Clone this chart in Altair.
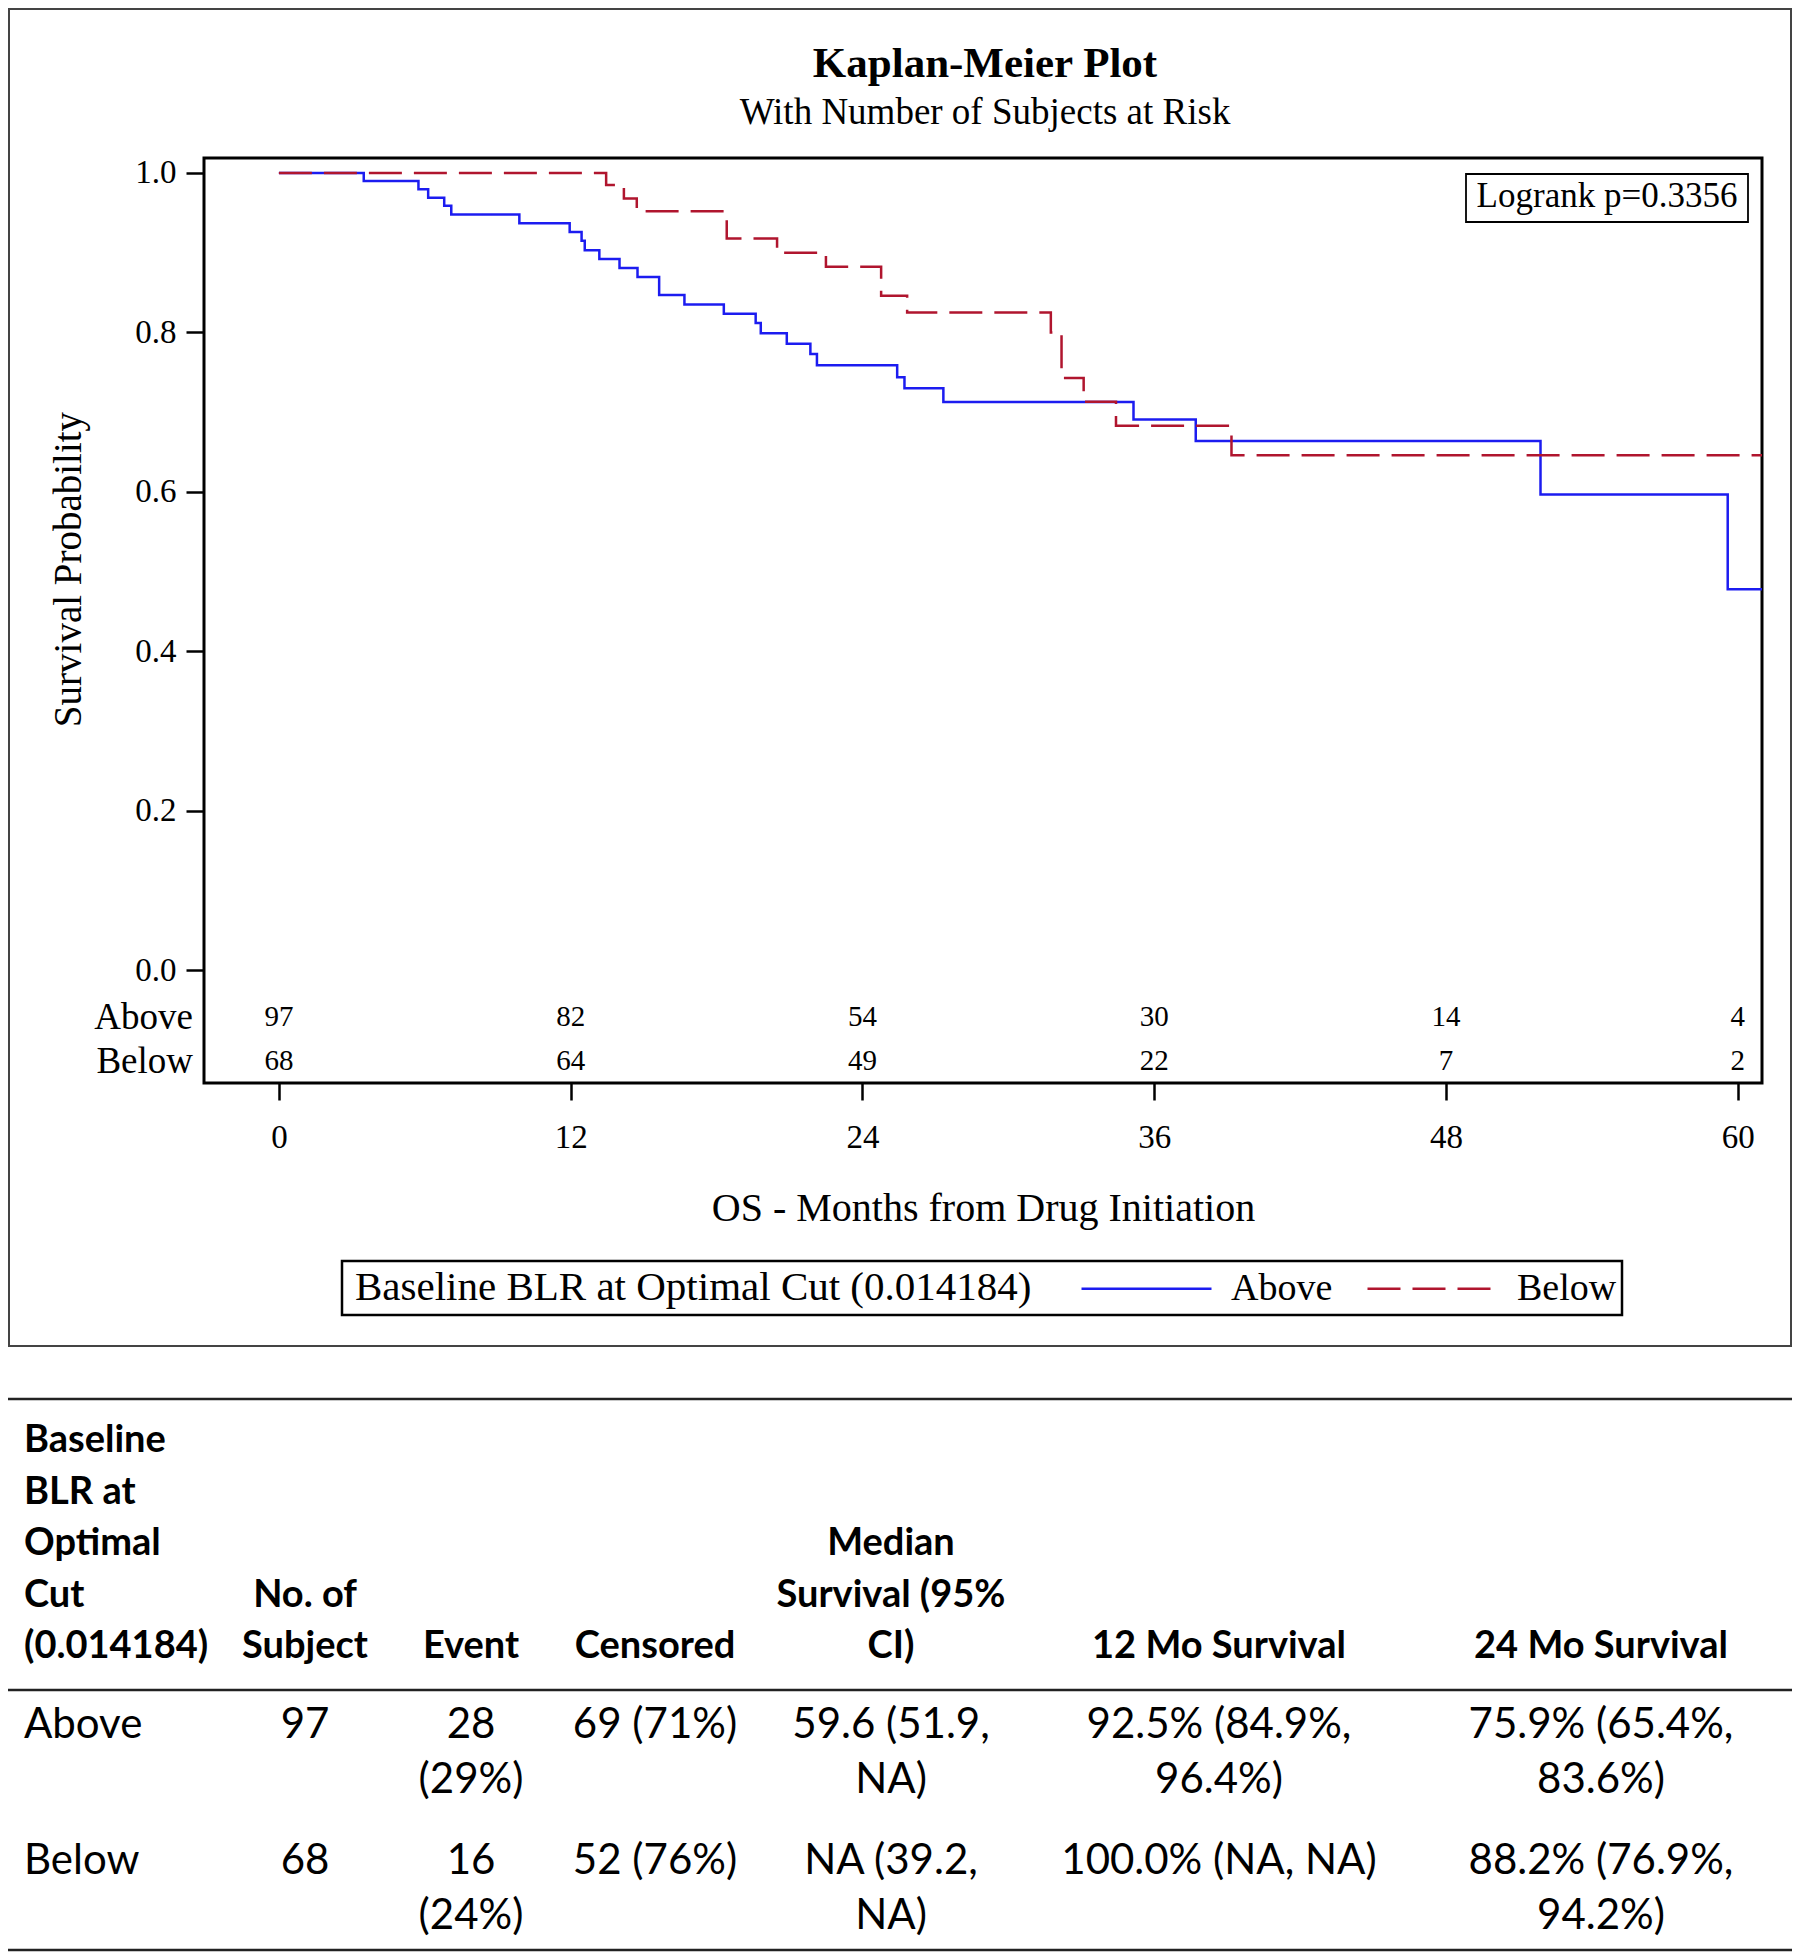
import altair as alt
import pandas as pd

# ---------------- data ----------------
above_t = [0, 3.49, 5.74, 6.14, 6.80, 7.09, 9.89, 11.96, 12.45, 12.58, 13.18, 14.01, 14.75,
           15.64, 16.68, 18.30, 19.61, 19.82, 20.89, 21.86, 22.13, 25.43, 25.73, 27.33,
           35.15, 37.71, 51.89, 59.59, 61.0]
above_s = [1.0, 0.990, 0.9795, 0.969, 0.959, 0.948, 0.937, 0.926, 0.915, 0.903, 0.892, 0.881,
           0.8695, 0.847, 0.835, 0.8235, 0.812, 0.799, 0.786, 0.773, 0.759, 0.744, 0.730,
           0.7127, 0.691, 0.664, 0.597, 0.478, 0.478]
below_t = [0, 13.46, 14.19, 14.72, 18.42, 20.49, 22.50, 24.77, 25.84, 31.75, 32.19, 33.10,
           34.43, 39.18, 61.0]
below_s = [1.0, 0.985, 0.968, 0.952, 0.918, 0.900, 0.8825, 0.846, 0.825, 0.800, 0.743, 0.713,
           0.683, 0.646, 0.646]

risk_times = [0, 12, 24, 36, 48, 60]
risk_above = [97, 82, 54, 30, 14, 4]
risk_below = [68, 64, 49, 22, 7, 2]

groups = ["Above", "Below"]
colors = ["#1C1CF0", "#B0152E"]
x_ticks = [0, 12, 24, 36, 48, 60]
y_ticks = [0.0, 0.2, 0.4, 0.6, 0.8, 1.0]

title_text = "Kaplan-Meier Plot"
subtitle_text = "With Number of Subjects at Risk"
x_title = "OS - Months from Drug Initiation"
y_title = "Survival Probability"
legend_title = "Baseline BLR at Optimal Cut (0.014184)"
logrank_text = "Logrank p=0.3356"

table_header = [
    ["Baseline", "BLR at", "Optimal", "Cut", "(0.014184)"],
    ["No. of", "Subject"],
    ["Event"],
    ["Censored"],
    ["Median", "Survival (95%", "CI)"],
    ["12 Mo Survival"],
    ["24 Mo Survival"],
]
table_rows = [
    [["Above"], ["97"], ["28", "(29%)"], ["69 (71%)"], ["59.6 (51.9,", "NA)"],
     ["92.5% (84.9%,", "96.4%)"], ["75.9% (65.4%,", "83.6%)"]],
    [["Below"], ["68"], ["16", "(24%)"], ["52 (76%)"], ["NA (39.2,", "NA)"],
     ["100.0% (NA, NA)"], ["88.2% (76.9%,", "94.2%)"]],
]

# ---------------- layout (pixels, relative to the plot area origin) ----------------
PLOT_W, PLOT_H = 1558, 925
SERIF = "Liberation Serif"
SANS = "Lato"
col_x = [-180, 101, 267, 451, 687, 1015, 1397]
header_last_y = 1489
header_lh = 51.5
row_first_y = [1567, 1703]
body_lh = 54.6
rule_y = [1241, 1532, 1792]

km = pd.DataFrame({
    "t": above_t + below_t,
    "S": above_s + below_s,
    "group": ["Above"] * len(above_t) + ["Below"] * len(below_t),
})

x_scale = alt.Scale(domain=[-3.08, 61.0], nice=False, zero=False)
y_scale = alt.Scale(domain=[-0.1411, 1.0188], nice=False, zero=False)

x_axis = alt.Axis(
    values=x_ticks, title=x_title, grid=False, domain=False, tickSize=17, tickWidth=2.5,
    tickColor="black", labelFont=SERIF, labelFontSize=33, labelPadding=21, labelColor="black",
    labelFlush=False, labelOverlap=False, titleFont=SERIF, titleFontSize=40,
    titleFontWeight="normal", titleColor="black", titleX=779, titleY=137,
    titleBaseline="alphabetic", titleAlign="center")
y_axis = alt.Axis(
    values=y_ticks, format=".1f", title=y_title, grid=False, domain=False, tickSize=18,
    tickWidth=2.5, tickColor="black", labelFont=SERIF, labelFontSize=33, labelPadding=10,
    labelColor="black", labelFlush=False, labelOverlap=False, titleFont=SERIF,
    titleFontSize=39, titleFontWeight="normal", titleColor="black", titleX=-124, titleY=411,
    titleAngle=270, titleBaseline="alphabetic", titleAlign="center")

legend = alt.Legend(
    title=None, orient="none", legendX=876, legendY=1064, direction="horizontal",
    labelFont=SERIF, labelFontSize=38, labelColor="black", labelLimit=500, labelOffset=18,
    symbolType="stroke", symbolSize=16900, symbolStrokeWidth=2.5, columnPadding=29,
    padding=0,
)

lines = alt.Chart(km).mark_line(interpolate="step-after", strokeWidth=2.5, clip=True).encode(
    x=alt.X("t:Q", scale=x_scale, axis=x_axis),
    y=alt.Y("S:Q", scale=y_scale, axis=y_axis),
    color=alt.Color("group:N", scale=alt.Scale(domain=groups, range=colors), legend=legend),
    strokeDash=alt.StrokeDash("group:N", scale=alt.Scale(domain=groups, range=[[1, 0], [33, 12]]),
                              legend=legend),
)

one = alt.Data(values=[{}])

risk_a = alt.Chart(pd.DataFrame({"t": risk_times, "n": risk_above})).mark_text(
    font=SERIF, fontSize=29, color="black", baseline="middle", align="center").encode(
    x=alt.X("t:Q", scale=x_scale, axis=x_axis), y=alt.value(859), text="n:Q")
risk_b = alt.Chart(pd.DataFrame({"t": risk_times, "n": risk_below})).mark_text(
    font=SERIF, fontSize=29, color="black", baseline="middle", align="center").encode(
    x=alt.X("t:Q", scale=x_scale, axis=x_axis), y=alt.value(903), text="n:Q")
risk_lab = alt.Chart(pd.DataFrame({"g": groups, "py": [860, 904]})).mark_text(
    font=SERIF, fontSize=37, color="black", baseline="middle", align="right").encode(
    x=alt.value(-11), y=alt.Y("py:Q", scale=None, axis=None), text="g:N")

title = alt.Chart(one).mark_text(font=SERIF, fontSize=43, fontWeight="bold", color="black",
                                 baseline="middle", align="center").encode(
    x=alt.value(781), y=alt.value(-94), text=alt.value(title_text))
subtitle = alt.Chart(one).mark_text(font=SERIF, fontSize=37, color="black",
                                    baseline="middle", align="center").encode(
    x=alt.value(781), y=alt.value(-45), text=alt.value(subtitle_text))

logrank_box = alt.Chart(one).mark_rect(fill="white", stroke="black", strokeWidth=1.8).encode(
    x=alt.value(1262), x2=alt.value(1544), y=alt.value(16), y2=alt.value(64))
logrank = alt.Chart(one).mark_text(font=SERIF, fontSize=35, color="black",
                                   baseline="middle", align="center").encode(
    x=alt.value(1403), y=alt.value(38), text=alt.value(logrank_text))

legend_box = alt.Chart(one).mark_rect(fill="white", stroke="black", strokeWidth=2.5).encode(
    x=alt.value(138), x2=alt.value(1418), y=alt.value(1103), y2=alt.value(1157))
legend_head = alt.Chart(one).mark_text(font=SERIF, fontSize=41, color="black",
                                       baseline="middle", align="left").encode(
    x=alt.value(151), y=alt.value(1130), text=alt.value(legend_title))

outer_box = alt.Chart(one).mark_rect(fill="transparent", stroke="#444444", strokeWidth=2).encode(
    x=alt.value(-195), x2=alt.value(1587), y=alt.value(-149), y2=alt.value(1188))

rules = alt.Chart(pd.DataFrame({"py": rule_y})).mark_rule(color="#222222", strokeWidth=2.5).encode(
    x=alt.value(-196), x2=alt.value(1588), y=alt.Y("py:Q", scale=None, axis=None))

# table cells -> one row per text line
head_recs, body_recs = [], []
for c, lines_ in enumerate(table_header):
    n = len(lines_)
    for i, s in enumerate(lines_):
        head_recs.append({"px": col_x[c], "py": header_last_y - (n - 1 - i) * header_lh,
                          "txt": s, "left": c == 0})
for r, row in enumerate(table_rows):
    for c, lines_ in enumerate(row):
        for i, s in enumerate(lines_):
            body_recs.append({"px": col_x[c], "py": row_first_y[r] + i * body_lh,
                              "txt": s, "left": c == 0})
head_df = pd.DataFrame(head_recs)
body_df = pd.DataFrame(body_recs)


def table_layer(df, left, weight, size):
    sub = df[df["left"] == left]
    return alt.Chart(sub).mark_text(
        font=SANS, fontSize=size, fontWeight=weight, color="black", baseline="middle",
        align="left" if left else "center").encode(
        x=alt.X("px:Q", scale=None, axis=None), y=alt.Y("py:Q", scale=None, axis=None),
        text="txt:N")


chart = alt.layer(
    outer_box, lines, risk_a, risk_b, risk_lab, title, subtitle, logrank_box, logrank,
    legend_box, legend_head, rules,
    table_layer(head_df, True, "bold", 38), table_layer(head_df, False, "bold", 38),
    table_layer(body_df, True, "normal", 42), table_layer(body_df, False, "normal", 42),
).properties(
    width=PLOT_W, height=PLOT_H,
    padding={"left": 196, "top": 150, "right": 30, "bottom": 869},
    autosize=alt.AutoSizeParams(type="none"),
).configure(background="white", font=SERIF).configure_view(stroke="black", strokeWidth=3)

chart.save("out.html", embed_options={"renderer": "svg", "actions": False})
